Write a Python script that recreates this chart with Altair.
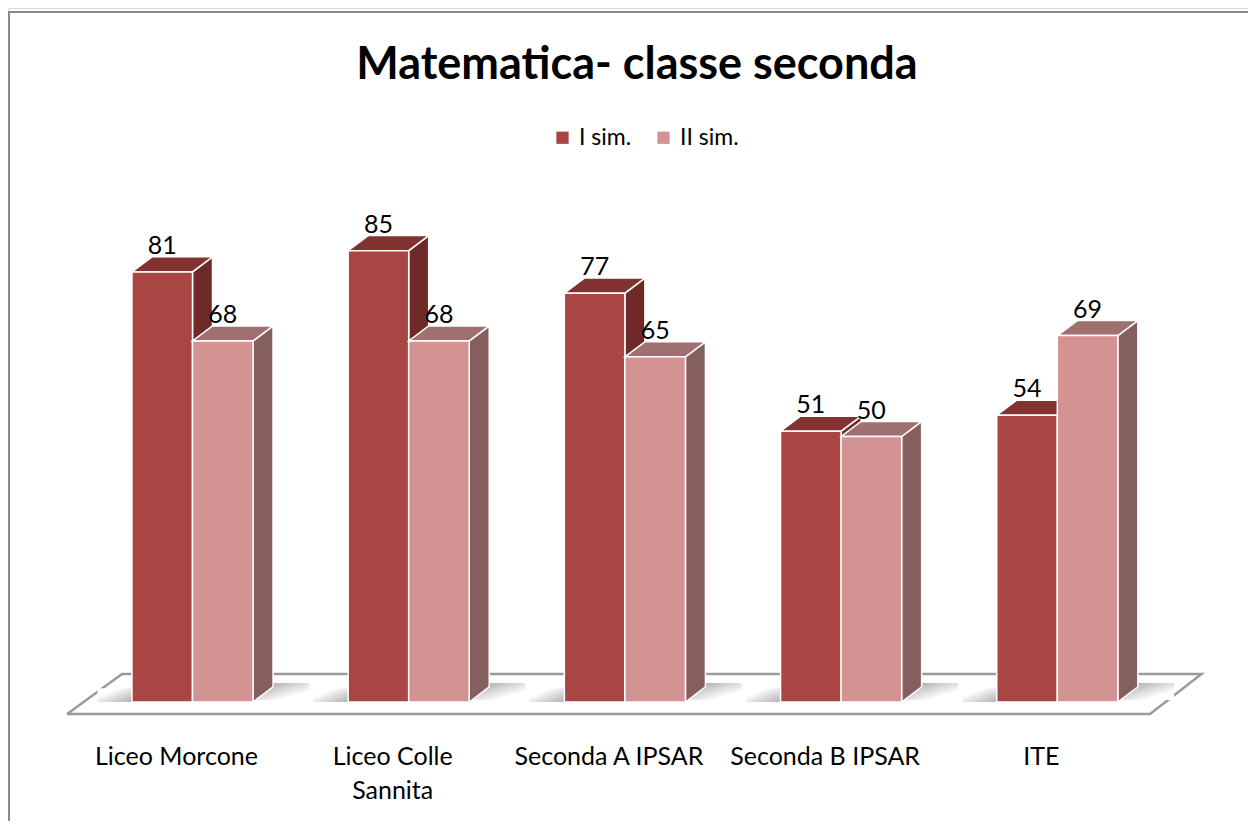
import altair as alt
import pandas as pd

# ---- data ----
categories = ["Liceo Morcone", "Liceo Colle Sannita", "Seconda A IPSAR", "Seconda B IPSAR", "ITE"]
category_labels = ["Liceo Morcone", "Liceo Colle\nSannita", "Seconda A IPSAR", "Seconda B IPSAR", "ITE"]
series = ["I sim.", "II sim."]
values_I = [81, 85, 77, 51, 54]
values_II = [68, 68, 65, 50, 69]

front_colors = ["#A94542", "#D39393"]
top_colors = ["#833232", "#A07070"]
side_colors = ["#6E2A29", "#855E5E"]

FONT = "Lato"
BAR_W = 0.28     # bar width in category units
DX = 0.0925      # 3D depth offset, category units
DY = 2.83        # 3D depth offset, value units
LABEL_SHIFT = -0.074

W, H = 1240, 813

# ---- derived tables ----
front_rows, top_rows, side_rows = [], [], []
for s_idx, (s, vals) in enumerate(zip(series, [values_I, values_II])):
    for i, (c, v) in enumerate(zip(categories, vals)):
        xl = i - BAR_W + s_idx * BAR_W
        xr = xl + BAR_W
        bid = f"{s_idx}-{i}"
        front_rows.append(dict(series=s, s=s_idx, cat=c, xl=xl, xr=xr, v=v, xc=(xl + xr) / 2))
        top_rows.append(dict(series=s, s=s_idx, bar=bid, y=v, x=xl, x2=xr))
        top_rows.append(dict(series=s, s=s_idx, bar=bid, y=v + DY, x=xl + DX, x2=xr + DX))
        side_rows.append(dict(series=s, s=s_idx, bar=bid, x=xr, y=0, y2=v))
        side_rows.append(dict(series=s, s=s_idx, bar=bid, x=xr + DX, y=DY, y2=v + DY))

front_df = pd.DataFrame(front_rows)
top_df = pd.DataFrame(top_rows)
side_df = pd.DataFrame(side_rows)

# floor shadows at the base of each bar group
shadow_df = pd.DataFrame({
    "lx1": [i - BAR_W - 0.16 for i in range(len(categories))],
    "lx2": [i - BAR_W for i in range(len(categories))],
    "rx1": [i + BAR_W for i in range(len(categories))],
    "rx2": [i + BAR_W + 0.26 for i in range(len(categories))],
})

cat_df = pd.DataFrame({
    "label": category_labels,
    "x": [i + LABEL_SHIFT for i in range(len(categories))],
})

# floor (3D base plane) outline
floor_df = pd.DataFrame({
    "x": [-0.580, 4.429, 4.667, -0.326, -0.580],
    "y": [-2.26, -2.26, 5.27, 5.27, -2.26],
    "o": [0, 1, 2, 3, 4],
})

XS = alt.Scale(domain=[0, 4], range=[184.5, 184.5 + 4 * 216.2], nice=False, zero=False)
YS = alt.Scale(domain=[0, 100], range=[694, 163], nice=False, zero=False)

layers = []

# chart border (left + top)
one = pd.DataFrame({"a": [0]})
layers.append(alt.Chart(one).mark_rule(color="#8a8a8a", strokeWidth=2).encode(
    x=alt.value(1), y=alt.value(4), y2=alt.value(H)))
layers.append(alt.Chart(one).mark_rule(color="#8a8a8a", strokeWidth=2).encode(
    x=alt.value(0), x2=alt.value(W), y=alt.value(4)))

# floor
layers.append(alt.Chart(floor_df).mark_line(color="#9a9a9a", strokeWidth=2.5).encode(
    x=alt.X("x:Q", scale=XS, axis=None),
    y=alt.Y("y:Q", scale=YS, axis=None),
    order="o:Q",
))

# shadows
grad_left = alt.LinearGradient(gradient="linear", x1=0, x2=1, y1=0, y2=1,
                               stops=[alt.GradientStop(color="#ffffff", offset=0.3),
                                      alt.GradientStop(color="#b0b0b0", offset=1)])
grad_right = alt.LinearGradient(gradient="linear", x1=0, x2=1, y1=0, y2=1,
                                stops=[alt.GradientStop(color="#999999", offset=0),
                                       alt.GradientStop(color="#ffffff", offset=0.75)])
layers.append(alt.Chart(shadow_df).mark_rect(color=grad_left).encode(
    x=alt.X("lx1:Q", scale=XS, axis=None), x2="lx2:Q",
    y=alt.Y("y:Q", scale=YS, axis=None), y2="y2:Q",
).transform_calculate(y="2.6", y2="0"))
layers.append(alt.Chart(shadow_df).mark_rect(color=grad_right).encode(
    x=alt.X("rx1:Q", scale=XS, axis=None), x2="rx2:Q",
    y=alt.Y("y:Q", scale=YS, axis=None), y2="y2:Q",
).transform_calculate(y="3.6", y2="0.4"))

for s_idx, s in enumerate(series):
    side = alt.Chart(side_df).transform_filter(alt.datum.s == s_idx).mark_area(
        color=side_colors[s_idx], stroke="white", strokeWidth=1.5, opacity=1
    ).encode(
        x=alt.X("x:Q", scale=XS, axis=None),
        y=alt.Y("y:Q", scale=YS, axis=None),
        y2="y2:Q",
        detail="bar:N",
    )
    top = alt.Chart(top_df).transform_filter(alt.datum.s == s_idx).mark_area(
        orient="horizontal", color=top_colors[s_idx], stroke="white", strokeWidth=1.5, opacity=1
    ).encode(
        y=alt.Y("y:Q", scale=YS, axis=None),
        x=alt.X("x:Q", scale=XS, axis=None),
        x2="x2:Q",
        detail="bar:N",
    )
    front = alt.Chart(front_df).transform_filter(alt.datum.s == s_idx).mark_rect(
        stroke="white", strokeWidth=1.5
    ).encode(
        x=alt.X("xl:Q", scale=XS, axis=None),
        x2="xr:Q",
        y=alt.Y("v:Q", scale=YS, axis=None),
        y2=alt.datum(0),
        color=alt.Color("series:N", scale=alt.Scale(domain=series, range=front_colors),
                        legend=alt.Legend(title=None, orient="none", legendX=543, legendY=118,
                                          direction="horizontal", symbolType="square",
                                          symbolSize=150, symbolStrokeWidth=0,
                                          labelFontSize=23, labelFont=FONT, labelColor="black",
                                          columnPadding=20, labelOffset=5, padding=0)),
    )
    layers += [side, top, front]

# value labels
layers.append(alt.Chart(front_df).mark_text(
    font=FONT, fontSize=25, dy=-26, baseline="middle", color="black"
).encode(
    x=alt.X("xc:Q", scale=XS, axis=None),
    y=alt.Y("v:Q", scale=YS, axis=None),
    text="v:Q",
))

# category labels
layers.append(alt.Chart(cat_df).mark_text(
    font=FONT, fontSize=25, baseline="alphabetic", lineBreak="\n", lineHeight=34, color="black"
).encode(
    x=alt.X("x:Q", scale=XS, axis=None),
    y=alt.value(757),
    text="label:N",
))

# title
layers.append(alt.Chart(one).mark_text(
    font=FONT, fontSize=45, fontWeight="bold", baseline="middle", color="black"
).encode(
    x=alt.value(629), y=alt.value(57), text=alt.value("Matematica- classe seconda"),
))

chart = alt.layer(*layers).properties(
    width=W, height=H,
    autosize=alt.AutoSizeParams(type="none"),
    padding=0,
).configure_view(strokeWidth=0).configure(background="white")

chart.save("out.html", embed_options={"renderer": "svg", "actions": False})
